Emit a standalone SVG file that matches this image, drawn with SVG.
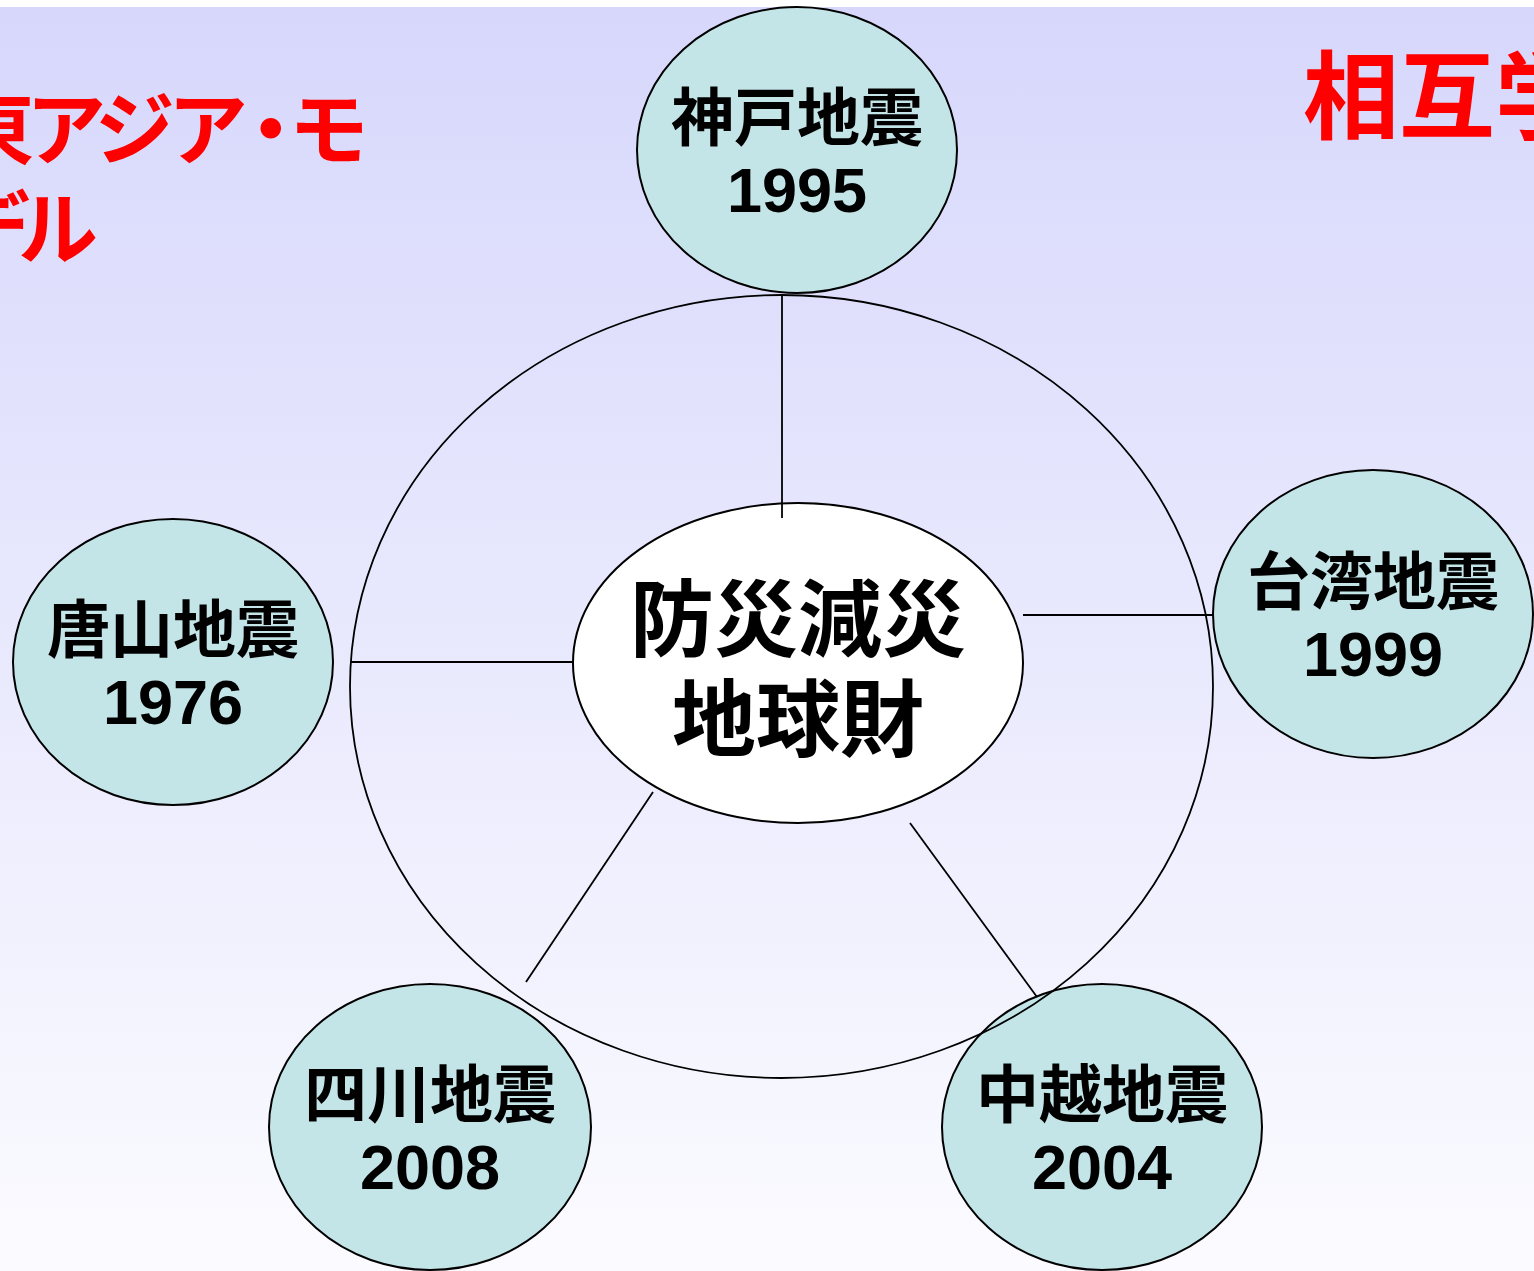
<svg xmlns="http://www.w3.org/2000/svg" width="1534" height="1271" viewBox="0 0 1534 1271">
<defs>
<linearGradient id="bg" x1="0" y1="0" x2="0" y2="1">
<stop offset="0" stop-color="#d7d7fc"/>
<stop offset="1" stop-color="#fbfbff"/>
</linearGradient>
</defs>
<style>
.sat{fill:#c4e5e8;stroke:#000;stroke-width:2}
.ctr{fill:#fff;stroke:#000;stroke-width:2}
.ring{fill:none;stroke:#000;stroke-width:1.8}
.con line{stroke:#000;stroke-width:1.8}
.lbl{font-family:"Liberation Sans","Noto Sans CJK JP",sans-serif;font-weight:bold;fill:#000;text-anchor:middle}
.s{font-size:63px}
.c{font-size:84px}
.title{font-family:"Noto Sans CJK JP","Liberation Sans",sans-serif;font-weight:bold;fill:#ff0000}
</style>
<rect x="0" y="0" width="1534" height="1271" fill="#fff"/>
<rect x="0" y="7" width="1534" height="1264" fill="url(#bg)"/>

<g id="titles">
<text class="title" font-size="80" x="-46" y="158" dx="0 -8 -8 -7 -17 -22">東アジア・モ</text>
<text class="title" font-size="80" x="-50" y="258" dx="0 -12">デル</text>
<text class="title" x="1303" y="131" font-size="96">相互学</text>
</g>

<g id="center">
<ellipse class="ctr" cx="798" cy="663" rx="225" ry="160"/>
<text class="lbl c" x="798" y="650">防災減災</text>
<text class="lbl c" x="798" y="750">地球財</text>
</g>

<g id="kobe">
<ellipse class="sat" cx="797" cy="150" rx="160" ry="143"/>
<text class="lbl s" x="797" y="140">神戸地震</text>
<text class="lbl s" x="797" y="212">1995</text>
</g>
<g id="taiwan">
<ellipse class="sat" cx="1373" cy="614" rx="160" ry="144"/>
<text class="lbl s" x="1373" y="604">台湾地震</text>
<text class="lbl s" x="1373" y="676">1999</text>
</g>
<g id="tangshan">
<ellipse class="sat" cx="173" cy="662" rx="160" ry="143"/>
<text class="lbl s" x="173" y="652">唐山地震</text>
<text class="lbl s" x="173" y="724">1976</text>
</g>
<g id="sichuan">
<ellipse class="sat" cx="430" cy="1127" rx="161" ry="143"/>
<text class="lbl s" x="430" y="1117">四川地震</text>
<text class="lbl s" x="430" y="1189">2008</text>
</g>
<g id="chuetsu">
<ellipse class="sat" cx="1102" cy="1127" rx="160" ry="143"/>
<text class="lbl s" x="1102" y="1117">中越地震</text>
<text class="lbl s" x="1102" y="1189">2004</text>
</g>

<g id="ring">
<ellipse class="ring" cx="781.5" cy="686.5" rx="431.5" ry="391.5"/>
</g>

<g id="connectors" class="con">
<line x1="782" y1="295" x2="782" y2="518"/>
<line x1="350" y1="662" x2="573" y2="662"/>
<line x1="1023" y1="615" x2="1213" y2="615"/>
<line x1="653" y1="792" x2="526" y2="982"/>
<line x1="910" y1="823" x2="1037" y2="997"/>
</g>
</svg>
